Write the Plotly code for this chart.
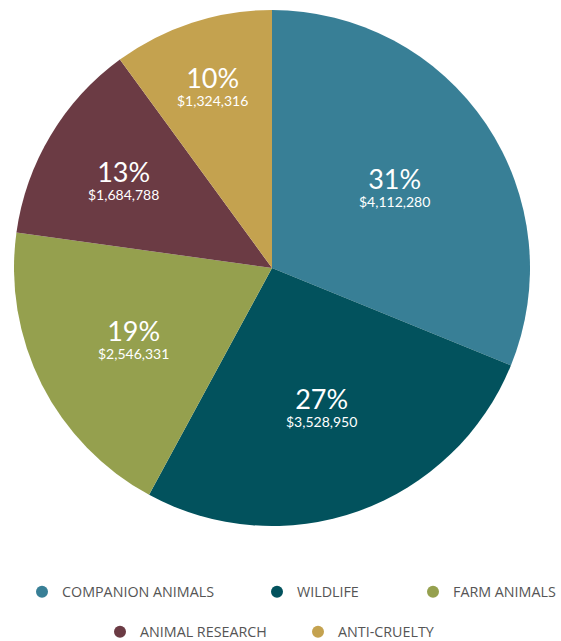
import math
import plotly.graph_objects as go

categories = ["COMPANION ANIMALS", "WILDLIFE", "FARM ANIMALS", "ANIMAL RESEARCH", "ANTI-CRUELTY"]
amounts = [4112280, 3528950, 2546331, 1684788, 1324316]
pct_labels = ["31%", "27%", "19%", "13%", "10%"]
amount_labels = ["$4,112,280", "$3,528,950", "$2,546,331", "$1,684,788", "$1,324,316"]

colors = ["#387f96", "#02525d", "#95a04e", "#6b3b44", "#c4a24f"]
label_radius = [0.57, 0.57, 0.60, 0.67, 0.745]  # fraction of pie radius

# legend entry placement (left pixel x, row centre pixel y)
legend_x = [22, 257, 413, 100, 298]
legend_y = [592, 592, 592, 632, 632]

W, H = 561, 641
cx, cy, R = 272, 268, 258  # pixel centre/radius of pie

fig = go.Figure()
fig.add_trace(go.Pie(
    labels=categories, values=amounts, sort=False, direction="clockwise",
    rotation=0, marker=dict(colors=colors, line=dict(width=0)),
    textinfo="none", hoverinfo="label+value+percent", showlegend=False,
    domain=dict(x=[(cx - R) / W, (cx + R) / W], y=[1 - (cy + R) / H, 1 - (cy - R) / H]),
))

total = sum(amounts)
cum = 0
for i, v in enumerate(amounts):
    mid = (cum + v / 2) / total * 2 * math.pi
    cum += v
    r = label_radius[i] * R
    px = cx + r * math.sin(mid)
    py = cy - r * math.cos(mid)
    fig.add_annotation(
        x=px / W, y=1 - py / H, xref="paper", yref="paper", showarrow=False,
        text=f"<span style='font-size:27px'>{pct_labels[i]}</span><br><span style='font-size:14px'>{amount_labels[i]}</span>",
        font=dict(family="Lato, Open Sans, sans-serif", color="white", size=14),
        align="center", xanchor="center", yanchor="middle",
    )

legend_font = dict(family="Open Sans, Noto Sans, sans-serif", size=14.3, color="#555555")
layout_legends = {}
for i, name in enumerate(categories):
    key = "legend" if i == 0 else f"legend{i + 1}"
    fig.add_trace(go.Scatter(
        x=[None], y=[None], mode="markers", name=name,
        marker=dict(color=colors[i], size=16, symbol="circle"),
        legend=key,
    ))
    layout_legends[key] = dict(
        orientation="h", x=legend_x[i] / W, xanchor="left",
        y=1 - legend_y[i] / H, yanchor="middle", font=legend_font,
        itemsizing="constant", itemwidth=30, bgcolor="rgba(0,0,0,0)",
    )

fig.update_layout(
    width=W, height=H, margin=dict(l=0, r=0, t=0, b=0, autoexpand=False),
    paper_bgcolor="white", plot_bgcolor="white",
    xaxis=dict(visible=False), yaxis=dict(visible=False),
    **layout_legends,
)

fig.write_html(
    "out.html",
    config={"displayModeBar": False},
    post_script="document.body.style.margin='0px';document.body.style.overflow='hidden';",
)
